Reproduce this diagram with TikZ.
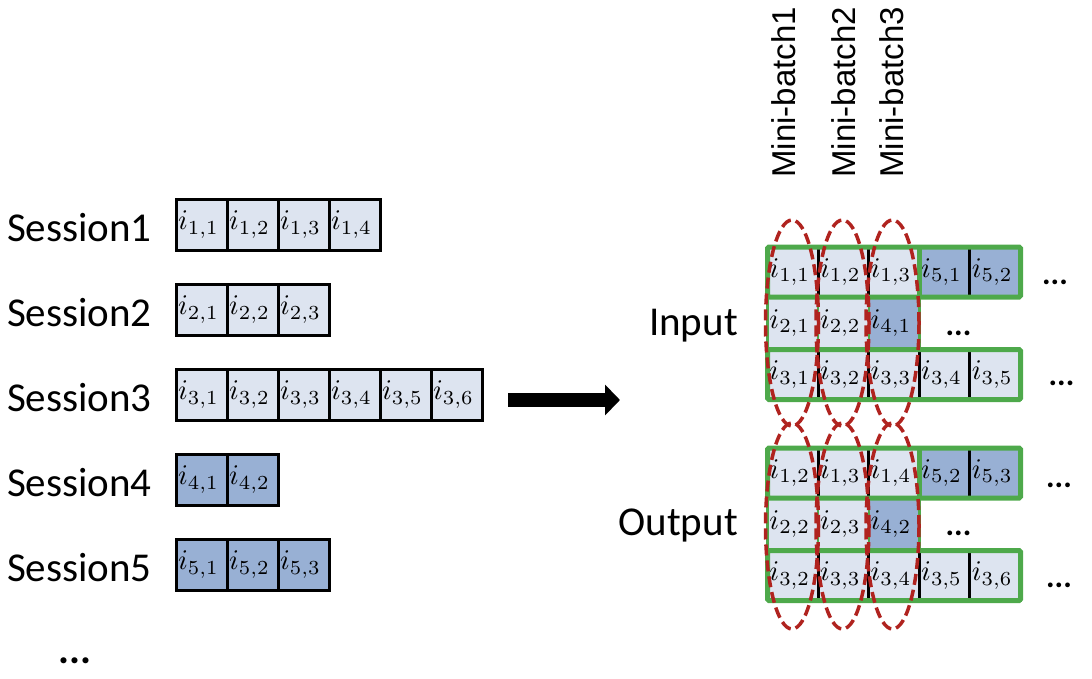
\documentclass[tikz,border=0pt]{standalone}
\usepackage{fontspec}
\setmainfont{Carlito}
\newfontfamily\arialfont{Liberation Sans}
\usetikzlibrary{arrows.meta,shapes.geometric}
\definecolor{cellLight}{HTML}{DDE4F0}
\definecolor{cellDark}{HTML}{98B0D4}
\definecolor{rowGreen}{HTML}{4EA94B}
\definecolor{ovalRed}{HTML}{B0231F}
\newcommand\cellmath[1]{\scalebox{2.85}{$i_{#1}$}\hspace*{6pt}}
\begin{document}
\begin{tikzpicture}[x=1pt,y=-1pt,
  lcell/.style={draw=black, line width=3pt, minimum width=51pt, minimum height=51pt, inner sep=0pt, outer sep=0pt, fill=cellLight, font=\fontsize{10}{12}\selectfont},
  ldark/.style={lcell, fill=cellDark},
  rcell/.style={draw=rowGreen, line width=2pt, minimum width=50.6pt, inner sep=0pt, outer sep=0pt, fill=cellLight, font=\fontsize{10}{12}\selectfont},
  rdark/.style={rcell, fill=cellDark},
  rA/.style={minimum height=50pt},
  rB/.style={minimum height=52.5pt},
  rC/.style={minimum height=50pt},
  sessionlabel/.style={font=\fontsize{41}{49}\selectfont, inner sep=0pt, anchor=base east},
  dotsl/.style={font=\bfseries\fontsize{32}{38}\selectfont, inner sep=0pt, anchor=base},
  mblabel/.style={font=\arialfont\fontsize{33}{40}\selectfont, inner sep=0pt, rotate=90, anchor=base west},
  oval/.style={ellipse, draw=ovalRed, line width=3.5pt, dash pattern=on 11pt off 5pt, minimum width=53pt, minimum height=206pt, inner sep=0pt},
  rowbox/.style={draw=rowGreen, line width=5pt, rounded corners=1.5pt},
  midbox/.style={draw=rowGreen, line width=3pt},
  divider/.style={draw=black, line width=3pt},
  greendiv/.style={draw=rowGreen, line width=5pt}
]
\useasboundingbox (0,0) rectangle (1092,678);

% ---------- left: sessions ----------
\foreach \r/\n/\sty in {1/4/lcell, 2/3/lcell, 3/6/lcell, 4/2/ldark, 5/3/ldark} {
  \pgfmathsetmacro{\yc}{224.5+85*(\r-1)}
  \node[sessionlabel] (S\r) at (152,\yc+17) {Session\r};
  \foreach \c in {1,...,\n} {
    \node[\sty] (L\r-\c) at ({201.5+51*(\c-1)},\yc) {\cellmath{\r,\c}};
  }
}
\node[font=\bfseries\fontsize{41}{49}\selectfont, inner sep=0pt, anchor=base west] (Sdots) at (58,663) {...};

% ---------- arrow ----------
\coordinate (A0) at (508,400);
\coordinate (A1) at (620,400);
\draw[line width=14pt, -{Triangle[length=15pt, width=30pt]}] (A0) -- (A1);

% ---------- right: batches ----------
\foreach \blk/\off/\aa/\ab/\ac/\ad/\ae/\ba/\bb/\bc/\ca/\cb/\cc/\cd/\ce in
  {I/0/{1,1}/{1,2}/{1,3}/{5,1}/{5,2}/{2,1}/{2,2}/{4,1}/{3,1}/{3,2}/{3,3}/{3,4}/{3,5},
   O/201/{1,2}/{1,3}/{1,4}/{5,2}/{5,3}/{2,2}/{2,3}/{4,2}/{3,2}/{3,3}/{3,4}/{3,5}/{3,6}} {
  % row 1
  \node[rcell,rA] (\blk11) at (792.8,272+\off) {\cellmath{\aa}};
  \node[rcell,rA] (\blk12) at (843.4,272+\off) {\cellmath{\ab}};
  \node[rcell,rA] (\blk13) at (894.0,272+\off) {\cellmath{\ac}};
  \node[rdark,rA] (\blk14) at (944.6,272+\off) {\cellmath{\ad}};
  \node[rdark,rA] (\blk15) at (995.2,272+\off) {\cellmath{\ae}};
  % row 2
  \node[rcell,rB] (\blk21) at (792.8,323.25+\off) {\cellmath{\ba}};
  \node[rcell,rB] (\blk22) at (843.4,323.25+\off) {\cellmath{\bb}};
  \node[rdark,rB] (\blk23) at (894.0,323.25+\off) {\cellmath{\bc}};
  % row 3
  \node[rcell,rC] (\blk31) at (792.8,374.5+\off) {\cellmath{\ca}};
  \node[rcell,rC] (\blk32) at (843.4,374.5+\off) {\cellmath{\cb}};
  \node[rcell,rC] (\blk33) at (894.0,374.5+\off) {\cellmath{\cc}};
  \node[rcell,rC] (\blk34) at (944.6,374.5+\off) {\cellmath{\cd}};
  \node[rcell,rC] (\blk35) at (995.2,374.5+\off) {\cellmath{\ce}};
  % dividers
  \draw[divider] (\blk11.north east) -- (\blk11.south east);
  \draw[divider] (\blk12.north east) -- (\blk12.south east);
  \draw[greendiv] (\blk13.north east) -- (\blk13.south east);
  \draw[divider] (\blk14.north east) -- (\blk14.south east);
  \draw[divider] (\blk31.north east) -- (\blk31.south east);
  \draw[divider] (\blk32.north east) -- (\blk32.south east);
  \draw[divider] (\blk33.north east) -- (\blk33.south east);
  \draw[divider] (\blk34.north east) -- (\blk34.south east);
  % green row frames
  \draw[midbox] (\blk21.north west) rectangle (\blk23.south east);
  \draw[rowbox] (\blk11.north west) rectangle (\blk15.south east);
  \draw[rowbox] (\blk31.north west) rectangle (\blk35.south east);
}

% dots on the right
\node[dotsl] (Id1) at (1055,284.5) {...};
\node[dotsl] (Id2) at (958.5,335.5) {...};
\node[dotsl] (Id3) at (1061.5,385.5) {...};
\node[dotsl] (Od1) at (1059,487.5) {...};
\node[dotsl] (Od2) at (958.5,535.5) {...};
\node[dotsl] (Od3) at (1059,587.5) {...};

% Input / Output labels
\node[sessionlabel] (Inp) at (738,335) {Input};
\node[sessionlabel] (Outp) at (738,535) {Output};

% mini-batch ovals
\node[oval] (MI1) at (792,323) {};
\node[oval] (MI2) at (842.5,323) {};
\node[oval] (MI3) at (892.5,323) {};
\node[oval] (MO1) at (792,526) {};
\node[oval] (MO2) at (842.5,526) {};
\node[oval] (MO3) at (892.5,526) {};

% mini-batch labels
\node[mblabel] (MB1) at (795,178) {Mini-batch1};
\node[mblabel] (MB2) at (855,178) {Mini-batch2};
\node[mblabel] (MB3) at (903,178) {Mini-batch3};
\end{tikzpicture}
\end{document}
